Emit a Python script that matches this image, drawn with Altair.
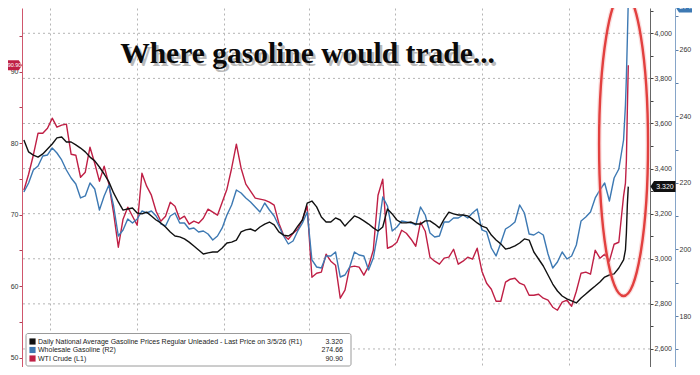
import altair as alt
import pandas as pd

# ---------------- data ----------------
dates = list(pd.date_range("2024-06-03", periods=128, freq="5D").strftime("%Y-%m-%d")) + [
    "2026-03-02", "2026-03-03", "2026-03-04", "2026-03-05"]

# Daily National Average Gasoline Price, $/gal (R1)
gasoline = [
    3.527, 3.474, 3.460, 3.451, 3.465, 3.487, 3.509, 3.536, 3.540, 3.518,
    3.518, 3.505, 3.491, 3.474, 3.451, 3.434, 3.407, 3.376, 3.341, 3.292,
    3.252, 3.216, 3.221, 3.225, 3.203, 3.199, 3.207, 3.190, 3.172, 3.159,
    3.141, 3.119, 3.101, 3.097, 3.088, 3.074, 3.057, 3.039, 3.021, 3.026,
    3.030, 3.030, 3.048, 3.070, 3.074, 3.083, 3.119, 3.128, 3.132, 3.123,
    3.141, 3.154, 3.163, 3.150, 3.119, 3.105, 3.101, 3.114, 3.145, 3.172,
    3.247, 3.256, 3.230, 3.185, 3.163, 3.163, 3.181, 3.172, 3.145, 3.168,
    3.190, 3.181, 3.168, 3.154, 3.137, 3.123, 3.141, 3.221, 3.199, 3.172,
    3.159, 3.159, 3.163, 3.154, 3.154, 3.168, 3.168, 3.154, 3.137, 3.176,
    3.207, 3.199, 3.194, 3.194, 3.190, 3.176, 3.159, 3.145, 3.137, 3.105,
    3.083, 3.066, 3.043, 3.048, 3.057, 3.070, 3.088, 3.083, 3.030, 2.999,
    2.968, 2.928, 2.888, 2.857, 2.835, 2.822, 2.813, 2.804, 2.826, 2.844,
    2.862, 2.879, 2.897, 2.919, 2.928, 2.933, 2.959, 2.995,
    3.039, 3.114, 3.239, 3.320]

# Wholesale Gasoline (R2)
wholesale = [
    217.27, 219.97, 223.87, 225.07, 228.08, 228.38, 230.48, 228.98, 226.88, 223.87,
    221.47, 219.67, 215.47, 216.07, 219.97, 218.17, 211.86, 216.07, 219.37, 213.06,
    204.05, 205.86, 209.16, 207.96, 209.16, 211.56, 210.96, 211.56, 210.06, 207.66,
    207.06, 210.06, 210.96, 207.96, 207.96, 206.16, 206.46, 205.26, 205.56, 204.65,
    202.85, 204.05, 206.46, 210.36, 213.36, 217.87, 216.97, 215.47, 214.26, 212.76,
    211.26, 213.96, 211.86, 210.06, 207.06, 204.05, 201.65, 202.55, 205.56, 207.96,
    211.26, 196.85, 194.74, 194.44, 198.05, 198.05, 199.25, 191.74, 192.34, 194.74,
    199.25, 198.35, 198.05, 193.84, 197.45, 205.26, 215.77, 213.06, 205.56, 206.76,
    208.56, 208.26, 207.96, 207.36, 212.76, 210.36, 204.96, 203.75, 204.05, 208.26,
    208.26, 209.46, 209.46, 210.36, 209.46, 210.96, 212.16, 205.86, 205.26, 200.45,
    198.05, 201.95, 206.16, 207.06, 208.26, 213.36, 210.96, 204.65, 204.35, 205.26,
    204.35, 198.65, 194.44, 196.25, 199.25, 197.15, 198.05, 201.35, 208.56, 209.76,
    211.26, 215.47, 217.87, 219.97, 214.56, 221.47, 224.17, 232.88,
    243.39, 251.80, 262.91, 274.66]

# WTI Crude (L1)
wti = [
    73.43, 75.66, 78.32, 81.40, 81.40, 82.10, 83.50, 82.24, 82.52, 82.66,
    78.46, 78.32, 75.24, 75.94, 79.44, 77.20, 74.69, 76.78, 74.27, 70.21,
    65.45, 69.37, 71.05, 69.79, 68.53, 75.80, 73.99, 72.73, 70.49, 69.09,
    69.79, 71.75, 71.19, 69.37, 69.79, 68.67, 69.09, 68.81, 69.51, 70.77,
    70.35, 69.93, 71.75, 73.57, 76.50, 79.86, 76.50, 74.27, 73.29, 72.31,
    72.17, 72.03, 71.75, 71.33, 68.81, 67.13, 66.57, 67.41, 67.97, 69.37,
    71.19, 61.26, 61.82, 61.96, 64.48, 63.50, 62.94, 58.32, 59.44, 62.66,
    62.80, 62.66, 61.54, 62.80, 65.03, 72.73, 74.97, 65.31, 65.59, 66.15,
    67.83, 67.41, 66.57, 65.59, 68.95, 67.69, 64.06, 63.50, 63.08, 63.92,
    64.06, 65.17, 63.08, 63.50, 64.06, 63.78, 65.31, 62.10, 60.42, 59.58,
    57.90, 57.90, 60.56, 60.98, 61.12, 60.42, 60.14, 58.74, 58.74, 58.88,
    58.32, 58.04, 57.06, 56.64, 57.76, 58.04, 57.20, 59.30, 61.82, 61.96,
    61.68, 65.03, 63.92, 64.48, 63.50, 65.87, 66.15, 72.60,
    74.41, 77.62, 84.62, 90.90]

legend_labels = [
    "Daily National Average Gasoline Prices Regular Unleaded - Last Price on 3/5/26 (R1)",
    "Wholesale Gasoline (R2)",
    "WTI Crude (L1)",
]
legend_values = ["3.320", "274.66", "90.90"]
series_colors = ["#111111", "#3d79b3", "#bf1f45"]
title_text = "Where gasoline would trade..."
ellipse_date = ["2026-02-28"]

left_ticks = [50, 55, 60, 65, 70, 75, 80, 85, 90, 95]
r1_ticks = [round(2.6 + 0.1 * k, 1) for k in range(16)]
r1_grid = [2.6, 2.8, 3.0, 3.2, 3.4, 3.6, 3.8, 4.0]
r2_ticks = [170, 180, 190, 200, 210, 220, 230, 240, 250, 260, 270]
quarters = [(2024, 7), (2024, 10), (2025, 1), (2025, 4), (2025, 7), (2025, 10), (2026, 1)]

# ---------------- chart ----------------
W, H = 628, 359
FONT = "Liberation Sans"
BLACK, BLUE, RED = series_colors

df = pd.DataFrame({"date": dates, "gas": gasoline, "whs": wholesale, "wti": wti})

x_axis = alt.Axis(values=[alt.DateTime(year=y, month=m, date=1, utc=True) for y, m in quarters],
                  grid=True, gridDash=[2, 3], gridColor="#b5b5b5", gridWidth=1,
                  labels=False, ticks=False, domain=False, title=None)
x_scale = alt.Scale(domain=[alt.DateTime(year=2024, month=6, date=1, utc=True),
                            alt.DateTime(year=2026, month=3, date=28, utc=True)])
x_enc = alt.X("date:T", scale=x_scale, axis=x_axis)

yL = alt.Scale(domain=[48.70, 98.909], nice=False, zero=False)
yR1 = alt.Scale(domain=[2.5200, 4.1122], nice=False, zero=False)
yR2 = alt.Scale(domain=[164.71, 272.52], nice=False, zero=False)

common_axis = dict(title=None, grid=False, tickSize=3, labelPadding=1, labelFont=FONT,
                   labelFontSize=7, labelColor="#333333", labelOverlap=False, labelBound=False)
axL = alt.Axis(orient="left", values=left_ticks,
               labelExpr="datum.value % 10 == 0 ? datum.label : ''",
               domainColor="#d0566c", tickColor="#b04058", **common_axis)
axR1 = alt.Axis(orient="right", values=r1_ticks,
                labelExpr="round(datum.value*1000) % 200 == 0 ? format(datum.value*1000, ',.0f') : ''",
                domainColor="#666666", tickColor="#444444", **common_axis)
axR2 = alt.Axis(orient="right", offset=25, values=r2_ticks,
                labelExpr="datum.value % 20 == 0 ? datum.label : ''",
                domainColor="#86a5c8", tickColor="#5d7fa8", **common_axis)

hgrid = alt.Chart(pd.DataFrame({"g": r1_grid})).mark_rule(
    color="#b5b5b5", strokeDash=[2, 3], strokeWidth=1
).encode(y=alt.Y("g:Q", scale=yR1, axis=None))


def series(field, color, scale, axis):
    return alt.Chart(df).mark_line(color=color, strokeWidth=1.4, clip=True, strokeJoin="round").encode(
        x=x_enc, y=alt.Y(f"{field}:Q", scale=scale, axis=axis))


red_line = series("wti", RED, yL, axL)
blue_line = series("whs", BLUE, yR2, axR2)
black_line = series("gas", BLACK, yR1, axR1)

# red ellipse annotation
ELL = ("M0,-1C0.0889,-1 0.161,-0.5523 0.161,0C0.161,0.5523 0.0889,1 0,1"
       "C-0.0889,1 -0.161,0.5523 -0.161,0C-0.161,-0.5523 -0.0889,-1 0,-1Z")
ell_df = pd.DataFrame({"date": ellipse_date})
ell_glow = alt.Chart(ell_df).mark_point(shape=ELL, size=92416, filled=False, color="#f4a6a6",
                                        strokeWidth=5, opacity=0.35).encode(x=x_enc, y=alt.value(136))
ell_line = alt.Chart(ell_df).mark_point(shape=ELL, size=92416, filled=False, color="#e2403f",
                                        strokeWidth=2.4, opacity=1).encode(x=x_enc, y=alt.value(136))

# title with a soft shadow
tdf = pd.DataFrame({"t": [title_text]})
tstyle = dict(font="Liberation Serif", fontWeight="bold", fontSize=29.5, align="center",
              baseline="alphabetic")
tshadow = alt.Chart(tdf).mark_text(color="#555555", opacity=0.4, **tstyle).encode(
    x=alt.value(288), y=alt.value(58), text="t:N")
tmain = alt.Chart(tdf).mark_text(color="#0a0a0a", **tstyle).encode(
    x=alt.value(285.5), y=alt.value(55), text="t:N")

# last-price tags
TAG_LEFT = "M-1,0L-0.72,-0.44L1,-0.44L1,0.44L-0.72,0.44Z"
TAG_RIGHT = "M-1,-0.7L0.55,-0.7L1,0L0.55,0.7L-1,0.7Z"
tag_style = dict(color="white", font=FONT, fontSize=7, align="center", baseline="middle")

red_tag_df = pd.DataFrame({"v": [wti[-1]], "t": [legend_values[2]]})
red_tag = alt.Chart(red_tag_df).mark_point(shape=TAG_RIGHT, size=196, filled=True, color=RED,
                                           opacity=1, strokeWidth=0).encode(
    x=alt.value(-7), y=alt.Y("v:Q", scale=yL, axis=None))
red_tag_t = alt.Chart(red_tag_df).mark_text(**{**tag_style, "fontSize": 5.5}).encode(
    x=alt.value(-7.5), y=alt.Y("v:Q", scale=yL, axis=None), text="t:N")

blk_tag_df = pd.DataFrame({"v": [gasoline[-1]], "t": [legend_values[0]]})
blk_tag = alt.Chart(blk_tag_df).mark_point(shape=TAG_LEFT, size=625, filled=True, color=BLACK,
                                           opacity=1, strokeWidth=0).encode(
    x=alt.value(641), y=alt.Y("v:Q", scale=yR1, axis=None))
blk_tag_t = alt.Chart(blk_tag_df).mark_text(**tag_style).encode(
    x=alt.value(643), y=alt.Y("v:Q", scale=yR1, axis=None), text="t:N")

blu_tag_df = pd.DataFrame({"t": [legend_values[1]]})
blu_tag = alt.Chart(blu_tag_df).mark_point(shape=TAG_LEFT, size=625, filled=True, color=BLUE,
                                           opacity=1, strokeWidth=0).encode(
    x=alt.value(666), y=alt.value(-1))
blu_tag_t = alt.Chart(blu_tag_df).mark_text(**tag_style).encode(
    x=alt.value(668), y=alt.value(-1), text="t:N")

# legend box
leg_df = pd.DataFrame({"label": legend_labels, "val": legend_values, "col": series_colors})
row_scale = alt.Scale(type="point", domain=legend_labels, range=[333.5, 350.5], padding=0)
leg_box = alt.Chart(pd.DataFrame({"a": [0]})).mark_rect(
    fill="white", stroke="#9a9a9a", strokeWidth=1, cornerRadius=2
).encode(x=alt.value(4), x2=alt.value(329), y=alt.value(325.5), y2=alt.value(358))
leg_sq = alt.Chart(leg_df).mark_square(size=38, opacity=1).encode(
    x=alt.value(10.5), y=alt.Y("label:N", scale=row_scale, axis=None),
    color=alt.Color("col:N", scale=None))
leg_txt = alt.Chart(leg_df).mark_text(align="left", baseline="middle", font=FONT, fontSize=7,
                                      color="#222222").encode(
    x=alt.value(16), y=alt.Y("label:N", scale=row_scale, axis=None), text="label:N")
leg_val = alt.Chart(leg_df).mark_text(align="right", baseline="middle", font=FONT, fontSize=7,
                                      color="#222222").encode(
    x=alt.value(321), y=alt.Y("label:N", scale=row_scale, axis=None), text="val:N")

chart = alt.layer(
    hgrid, red_line, blue_line, black_line,
    ell_glow, ell_line,
    tshadow, tmain,
    red_tag, red_tag_t, blk_tag, blk_tag_t, blu_tag, blu_tag_t,
    leg_box, leg_sq, leg_txt, leg_val,
).resolve_scale(y="independent").properties(
    width=W, height=H,
    autosize=alt.AutoSizeParams(type="none"),
    padding={"left": 14, "top": 0, "right": 42, "bottom": 0},
    background="white",
).configure_view(strokeWidth=0)

chart.save("out.html", embed_options={"renderer": "svg", "actions": False})
